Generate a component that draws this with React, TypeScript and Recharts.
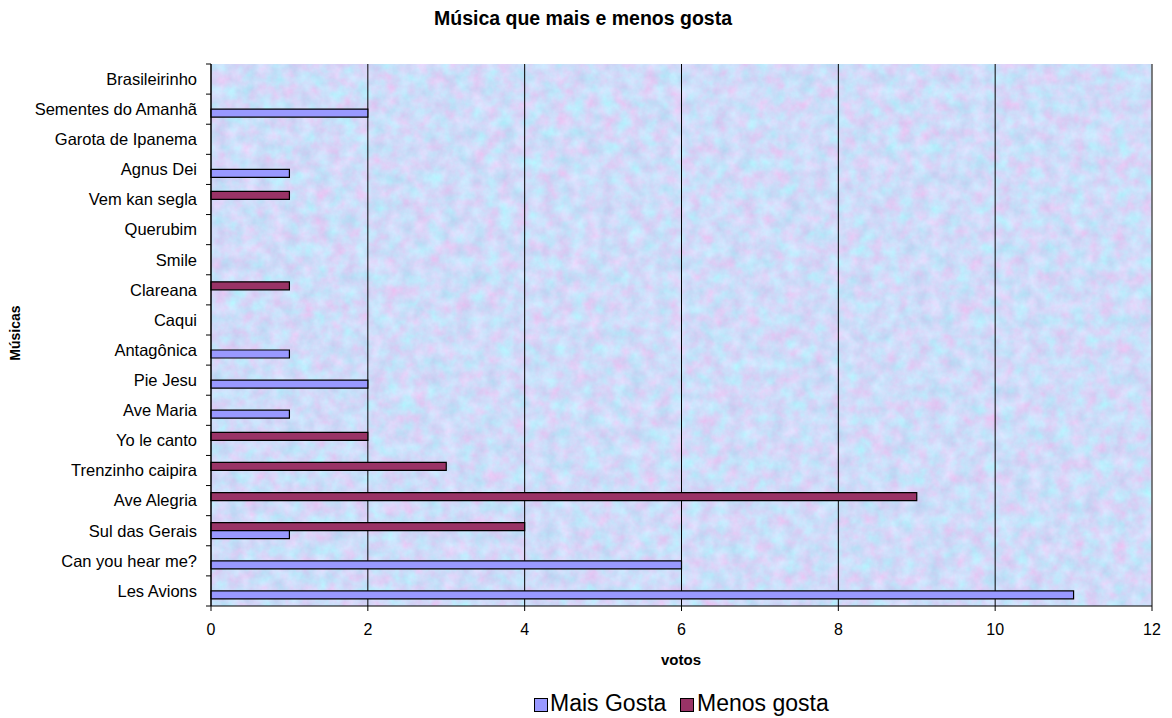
import React from "react";
import {
  BarChart,
  Bar,
  XAxis,
  YAxis,
  CartesianGrid,
  ReferenceLine,
} from "recharts";

// Songs, listed top to bottom as they appear on the category axis
const musicas = [
  "Brasileirinho",
  "Sementes do Amanhã",
  "Garota de Ipanema",
  "Agnus Dei",
  "Vem kan segla",
  "Querubim",
  "Smile",
  "Clareana",
  "Caqui",
  "Antagônica",
  "Pie Jesu",
  "Ave Maria",
  "Yo le canto",
  "Trenzinho caipira",
  "Ave Alegria",
  "Sul das Gerais",
  "Can you hear me?",
  "Les Avions",
];

// Votes per song (null = no votes)
const maisGosta: (number | null)[] = [
  null, 2, null, 1, null, null, null, null, null, 1, 2, 1, null, null, null, 1, 6, 11,
];
const menosGosta: (number | null)[] = [
  null, null, null, null, 1, null, null, 1, null, null, null, null, 2, 3, 9, 4, null, null,
];

const xTicks = [0, 2, 4, 6, 8, 10, 12];

const seriesNames = ["Mais Gosta", "Menos gosta"];
const seriesColors = ["#9999FF", "#993366"];

const titulo = "Música que mais e menos gosta";
const eixoX = "votos";
const eixoY = "Músicas";

const data = musicas.map((nome, i) => ({
  nome,
  mais: maisGosta[i],
  menos: menosGosta[i],
}));

const W = 1172;
const H = 718;
const M = { top: 64, right: 20, bottom: 82, left: 0 };
const Y_AXIS_W = 211;
const FONT = "'Liberation Sans', Arial, sans-serif";
const halfBand = (H - M.top - M.bottom - 30) / musicas.length / 2;

// Category label at band centre, small tick marks on band boundaries
const CategoryTick = (props: any) => {
  const { x, y, payload, index } = props;
  const half = payload && payload.offset ? payload.offset : halfBand;
  const ax = x + 14;
  return (
    <g>
      <text
        x={x}
        y={y}
        dy="0.355em"
        textAnchor="end"
        fontFamily={FONT}
        fontSize={16.5}
        fill="#000"
      >
        {payload.value}
      </text>
      <line x1={ax - 5} x2={ax} y1={y - half} y2={y - half} stroke="#000" />
      {index === musicas.length - 1 && (
        <line x1={ax - 5} x2={ax} y1={y + half} y2={y + half} stroke="#000" />
      )}
    </g>
  );
};

export default function App() {
  return (
    <div
      style={{
        position: "absolute",
        left: 0,
        top: 0,
        width: W,
        height: H,
        background: "#fff",
      }}
    >
      <svg width={0} height={0} style={{ position: "absolute" }}>
        <defs>
          {/* soft pastel blue/lilac paper texture for the plot background */}
          <filter
            id="grain"
            x={0}
            y={0}
            width={W}
            height={H}
            filterUnits="userSpaceOnUse"
            colorInterpolationFilters="sRGB"
          >
            <feTurbulence
              type="fractalNoise"
              baseFrequency="0.07"
              numOctaves={4}
              seed={7}
            />
            <feColorMatrix
              type="matrix"
              values="0.28 0 0 0 0.67  -0.12 0.18 0 0 0.83  0 0.08 0 0 0.935  0 0 0 0 1"
            />
          </filter>
          <pattern
            id="tex"
            patternUnits="userSpaceOnUse"
            x={0}
            y={0}
            width={W}
            height={H}
          >
            <rect x={0} y={0} width={W} height={H} filter="url(#grain)" />
          </pattern>
        </defs>
      </svg>

      <BarChart
        width={W}
        height={H}
        data={data}
        layout="vertical"
        margin={M}
        barGap={0}
        barSize={8}
      >
        <CartesianGrid
          horizontal={false}
          stroke="#000"
          strokeOpacity={1}
          fill="url(#tex)"
          fillOpacity={1}
        />
        <XAxis
          type="number"
          domain={[0, 12]}
          ticks={xTicks}
          interval={0}
          height={30}
          tickSize={5}
          tickMargin={13}
          axisLine={{ stroke: "#000" }}
          tickLine={{ stroke: "#000" }}
          tick={{ fill: "#000", fontFamily: FONT, fontSize: 16 }}
        />
        <XAxis
          xAxisId="top"
          orientation="top"
          type="number"
          domain={[0, 12]}
          height={0}
          tick={false}
          tickLine={false}
          axisLine={{ stroke: "#808080" }}
        />
        <YAxis
          type="category"
          dataKey="nome"
          width={Y_AXIS_W}
          interval={0}
          tickSize={0}
          tickMargin={14}
          tickLine={false}
          axisLine={{ stroke: "#000" }}
          tick={<CategoryTick />}
        />
        <ReferenceLine x={12} stroke="#808080" />
        <Bar
          dataKey="menos"
          name={seriesNames[1]}
          fill={seriesColors[1]}
          stroke="#000"
          strokeWidth={1.2}
          isAnimationActive={false}
        />
        <Bar
          dataKey="mais"
          name={seriesNames[0]}
          fill={seriesColors[0]}
          stroke="#000"
          strokeWidth={1.2}
          isAnimationActive={false}
        />
      </BarChart>

      <svg
        width={W}
        height={H}
        style={{ position: "absolute", left: 0, top: 0, pointerEvents: "none" }}
      >
        <text
          x={583}
          y={25}
          textAnchor="middle"
          fontFamily={FONT}
          fontWeight="bold"
          fontSize={19.5}
          fill="#000"
        >
          {titulo}
        </text>
        <text
          x={681}
          y={665}
          textAnchor="middle"
          fontFamily={FONT}
          fontWeight="bold"
          fontSize={15}
          fill="#000"
        >
          {eixoX}
        </text>
        <text
          transform="translate(20,333) rotate(-90)"
          textAnchor="middle"
          fontFamily={FONT}
          fontWeight="bold"
          fontSize={14}
          fill="#000"
        >
          {eixoY}
        </text>
        {/* legend */}
        <rect x={534.5} y={698.5} width={13} height={13} fill={seriesColors[0]} stroke="#000" />
        <text x={550} y={711} fontFamily={FONT} fontSize={23} fill="#000">
          {seriesNames[0]}
        </text>
        <rect x={680.5} y={698.5} width={13} height={13} fill={seriesColors[1]} stroke="#000" />
        <text x={697} y={711} fontFamily={FONT} fontSize={23} fill="#000">
          {seriesNames[1]}
        </text>
      </svg>
    </div>
  );
}
